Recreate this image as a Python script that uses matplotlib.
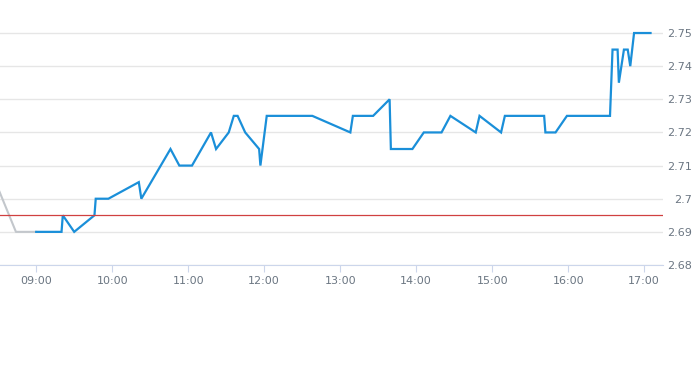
import matplotlib.pyplot as plt

# pre-open (gray) part
pre_times = ["08:29", "08:44", "09:00"]
pre_values = [2.704, 2.69, 2.69]

# trading session (blue)
times = ["09:00", "09:20", "09:21", "09:30", "09:46", "09:47", "09:57", "10:21",
         "10:23", "10:46", "10:53", "11:03", "11:18", "11:22", "11:32", "11:36",
         "11:39", "11:45", "11:56", "11:57", "12:02", "12:38", "13:08", "13:10",
         "13:26", "13:39", "13:40", "13:57", "14:06", "14:20", "14:27", "14:47",
         "14:50", "15:07", "15:10", "15:41", "15:42", "15:50", "15:59", "16:33",
         "16:35", "16:39", "16:40", "16:44", "16:47", "16:49", "16:52", "17:05"]
values = [2.69, 2.69, 2.695, 2.69, 2.695, 2.70, 2.70, 2.705,
          2.70, 2.715, 2.71, 2.71, 2.72, 2.715, 2.72, 2.725,
          2.725, 2.72, 2.715, 2.71, 2.725, 2.725, 2.72, 2.725,
          2.725, 2.73, 2.715, 2.715, 2.72, 2.72, 2.725, 2.72,
          2.725, 2.72, 2.725, 2.725, 2.72, 2.72, 2.725, 2.725,
          2.745, 2.745, 2.735, 2.745, 2.745, 2.74, 2.75, 2.75]

prev_close = 2.695

y_ticks = [2.68, 2.69, 2.70, 2.71, 2.72, 2.73, 2.74, 2.75]
y_labels = ["2.68", "2.69", "2.7", "2.71", "2.72", "2.73", "2.74", "2.75"]
x_ticks = ["09:00", "10:00", "11:00", "12:00", "13:00", "14:00", "15:00", "16:00", "17:00"]


def hours(t):
    h, m = t.split(":")
    return int(h) + int(m) / 60


fig = plt.figure(figsize=(6.93, 3.65), dpi=100)
ax = fig.add_axes([0, 1 - 265 / 365, 663 / 693, 255 / 365])

ax.plot([hours(t) for t in pre_times], pre_values, color="#c3c7cc", lw=1.5)
ax.plot([hours(t) for t in times], values, color="#1a8fd9", lw=1.6,
        solid_joinstyle="miter")
ax.axhline(prev_close, color="#d04040", lw=0.9)

ax.set_xlim(9 - 36.2 / 76, 9 + (663 - 36.2) / 76)
ax.set_ylim(2.68, 2.68 + 255 / 33.14 * 0.01)

ax.set_yticks(y_ticks)
ax.set_yticklabels(y_labels)
ax.yaxis.tick_right()
ax.tick_params(axis="y", length=0, pad=21, labelcolor="#6b7682", labelsize=8)
for lab in ax.get_yticklabels():
    lab.set_horizontalalignment("right")
ax.grid(axis="y", color="#e6e6e6", lw=1)
ax.set_axisbelow(True)

ax.set_xticks([hours(t) for t in x_ticks])
ax.set_xticklabels(x_ticks)
ax.tick_params(axis="x", length=5, color="#ccd6eb", labelcolor="#6b7682",
               labelsize=8, pad=3)

for s in ["top", "left", "right"]:
    ax.spines[s].set_visible(False)
ax.spines["bottom"].set_color("#ccd6eb")

plt.savefig("out.png")
